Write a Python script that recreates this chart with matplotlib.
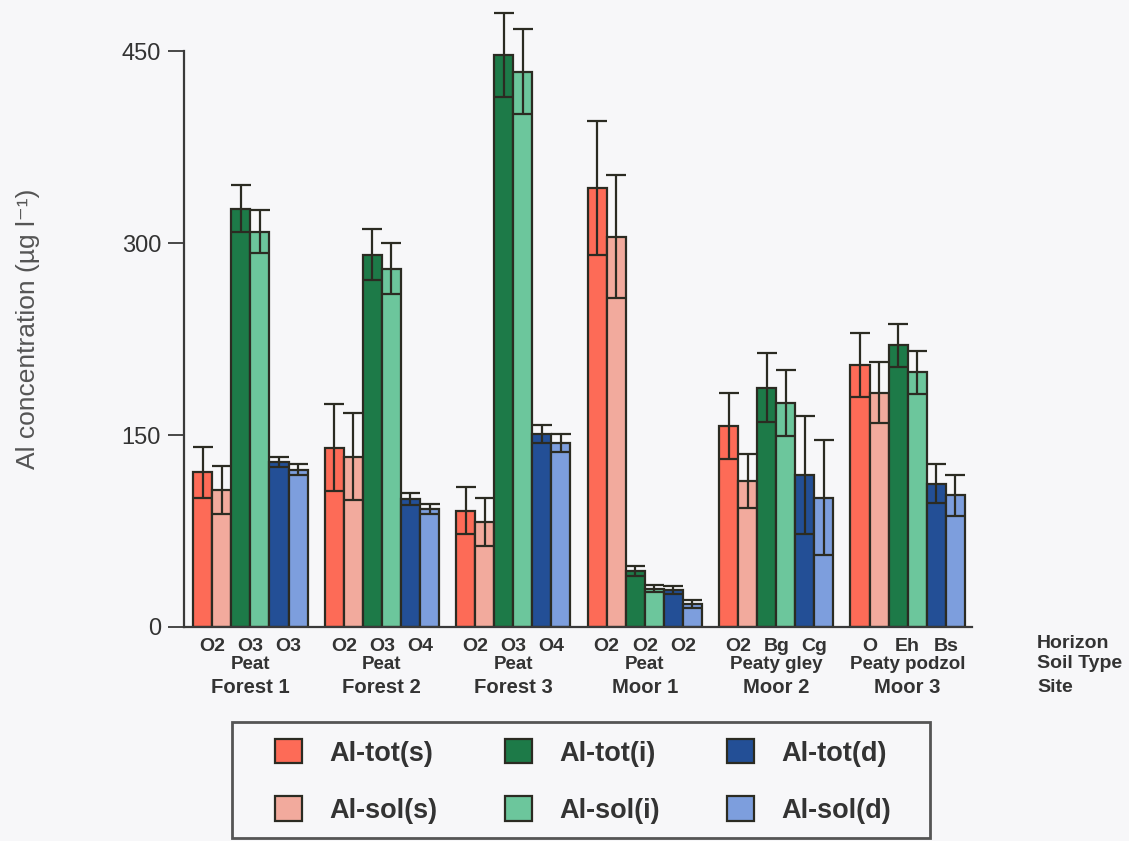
import matplotlib
matplotlib.use("Agg")
import matplotlib.pyplot as plt
import numpy as np
from matplotlib.patches import Patch, Rectangle

# ---- data (ug/l) ----
sites = ["Forest 1", "Forest 2", "Forest 3", "Moor 1", "Moor 2", "Moor 3"]
soil_types = ["Peat", "Peat", "Peat", "Peat", "Peaty gley", "Peaty podzol"]
horizons = [["O2", "O3", "O3"], ["O2", "O3", "O4"], ["O2", "O3", "O4"],
            ["O2", "O2", "O2"], ["O2", "Bg", "Cg"], ["O", "Eh", "Bs"]]

series_names = ["Al-tot(s)", "Al-sol(s)", "Al-tot(i)", "Al-sol(i)", "Al-tot(d)", "Al-sol(d)"]

tot_s = [121, 140, 91, 343, 157, 205]
tot_s_err = [20, 34, 18, 52, 26, 25]
sol_s = [107, 133, 82, 305, 114, 183]
sol_s_err = [19, 34, 19, 48, 21, 24]
tot_i = [327, 291, 447, 44, 187, 220]
tot_i_err = [18, 20, 33, 4, 27, 17]
sol_i = [309, 280, 434, 30, 175, 199]
sol_i_err = [17, 20, 33, 3, 26, 17]
tot_d = [129, 100, 151, 29, 119, 112]
tot_d_err = [4, 5, 7, 3, 46, 15]
sol_d = [123, 92, 144, 18, 101, 103]
sol_d_err = [4, 4, 7, 3, 45, 16]

values = [tot_s, sol_s, tot_i, sol_i, tot_d, sol_d]
errors = [tot_s_err, sol_s_err, tot_i_err, sol_i_err, tot_d_err, sol_d_err]
colors = ["#fd6b57", "#f2aa9d", "#1d7a48", "#6cc69c", "#234f96", "#7d9edd"]

FONT = ["Liberation Sans", "DejaVu Sans"]
plt.rcParams["font.family"] = FONT

bg = "#f7f7f9"
edge = "#2b2b22"
txt = "#333333"

fig = plt.figure(figsize=(11.29, 8.41), dpi=100, facecolor=bg)
ax = fig.add_axes([0.163, 0.2545, 0.698, 0.738])
ax.set_facecolor(bg)

n = len(sites)
x = np.arange(n)
w = 0.145
for k in range(6):
    xs = x + (k - 2.5) * w
    ax.bar(xs, values[k], width=w, color=colors[k], edgecolor=edge,
           linewidth=1.6, zorder=2)
    ax.errorbar(xs, values[k], yerr=errors[k], fmt="none", ecolor=edge,
                elinewidth=1.6, capsize=7.5, capthick=1.6, zorder=3,
                clip_on=False)

ax.set_xlim(-0.505, 5.49)
ax.set_ylim(0, 485)
ax.spines["top"].set_visible(False)
ax.spines["right"].set_visible(False)
ax.spines["left"].set_bounds(0, 450)
for s in ("left", "bottom"):
    ax.spines[s].set_linewidth(1.6)
    ax.spines[s].set_color("#3a3a3a")

ax.set_yticks([0, 150, 300, 450])
ax.tick_params(axis="y", length=11.5, width=1.3, colors="#3a3a3a",
               labelsize=17, labelcolor=txt, pad=5)
ax.set_xticks([])
ax.set_ylabel("Al concentration (µg l⁻¹)", fontsize=19, color="#555555",
              va="center")
ax.yaxis.set_label_coords(-0.198, 0.48)

# category labels under the bars
tr = ax.get_xaxis_transform()
for i in range(n):
    for j in range(3):
        ax.text(x[i] + (2 * j - 2) * w, -0.032, horizons[i][j], transform=tr,
                ha="center", va="center", fontsize=14, fontweight="bold",
                color=txt)
    ax.text(x[i], -0.061, soil_types[i], transform=tr, ha="center",
            va="center", fontsize=13.5, fontweight="bold", color=txt)
    ax.text(x[i], -0.098, sites[i], transform=tr, ha="center", va="center",
            fontsize=14.6, fontweight="bold", color=txt)

for ypx, lab in [(643, "Horizon"), (664, "Soil Type"), (687.5, "Site")]:
    fig.text(1037 / 1129, 1 - ypx / 841, lab, ha="left", va="center",
             fontsize=14, fontweight="bold", color=txt)

# legend box
fig.patches.append(Rectangle((0.2055, 0.0036), 0.6182, 0.138,
                             transform=fig.transFigure, facecolor="none",
                             edgecolor="#555555", linewidth=2))
handles = [Patch(facecolor=c, edgecolor=edge, linewidth=1.6) for c in colors]
fig.legend(handles, series_names, loc="center", bbox_to_anchor=(0.5164, 0.0708),
           ncol=3, frameon=False, prop={"size": 19.5, "weight": "bold"},
           handlelength=1.0, handleheight=1.0, handletextpad=1.0,
           columnspacing=2.5, labelspacing=1.1, labelcolor=txt)

fig.savefig("out.png", dpi=100, facecolor=bg)
